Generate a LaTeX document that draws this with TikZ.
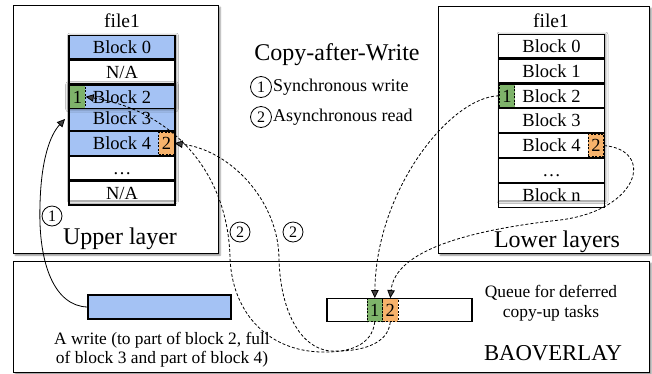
\documentclass[tikz,border=0pt]{standalone}
\usepackage{fontspec}
\setmainfont{Liberation Serif}
\usetikzlibrary{arrows.meta,shadows.blur}

\definecolor{blockblue}{HTML}{A4C2F4}
\definecolor{taskgreen}{HTML}{7EB36A}
\definecolor{taskorange}{HTML}{F6B26B}

\tikzset{
  frame/.style={draw, line width=1.4bp, fill=white, anchor=north west,
    blur shadow={shadow xshift=1.5bp, shadow yshift=-1.5bp, shadow blur radius=1.5bp, shadow opacity=45}},
  blk/.style={draw, line width=1.2bp, minimum width=106bp, minimum height=23.7bp,
    inner sep=0pt, anchor=north, text height=12.5bp, text depth=0bp,
    font=\fontsize{18.5bp}{20bp}\selectfont},
  stackbg/.style={fill=white, blur shadow={shadow xshift=1bp, shadow yshift=-1bp, shadow blur radius=2.5bp, shadow opacity=50}},
  task/.style={draw, line width=0.8bp, dash pattern=on 2bp off 1.5bp, minimum width=15.5bp,
    minimum height=22.5bp, inner sep=0pt, text height=12.5bp, text depth=0bp,
    font=\fontsize{18.5bp}{20bp}\selectfont},
  step num/.style={draw, circle, line width=0.8bp, minimum size=20bp, inner sep=0pt,
    font=\fontsize{16bp}{16bp}\selectfont},
  flow/.style={line width=0.8bp, dash pattern=on 3bp off 2bp, -{Triangle[length=8bp,width=7.5bp]}},
  lbl/.style={inner sep=0pt}
}

\begin{document}
\begin{tikzpicture}[x=1bp,y=-1bp]
\useasboundingbox (0,0) rectangle (652,373);

% outer frames
\node[frame, minimum width=205bp, minimum height=248bp] (upperbox) at (13,5) {};
\node[frame, minimum width=211bp, minimum height=247bp] (lowerbox) at (438,6) {};
\node[frame, minimum width=636bp, minimum height=111bp] (bao) at (13,261) {};

% upper layer file
\node[lbl, font=\fontsize{19.5bp}{20bp}\selectfont] (ufile) at (122,21) {file1};
\fill[stackbg] (69,34.5) rectangle (175,200);
\node[blk, fill=blockblue] (u0) at (122,34.5) {Block 0};
\node[blk] (u1) at (u0.south) {N/A};
\node[blk, fill=blockblue] (u3) at (122,105.9) {Block 3};
\node[blk, fill=blockblue] (u4) at (u3.south) {Block 4};
\node[blk] (u5) at (u4.south) {\dots};
\node[blk] (u6) at (u5.south) {N/A};
\node[blk, fill=blockblue,
  blur shadow={shadow xshift=0bp, shadow yshift=0bp, shadow blur radius=3.5bp, shadow opacity=75}]
  (u2) at (u1.south) {Block 2};
\node[task, fill=taskgreen, anchor=west] (ug) at ([xshift=1bp]u2.west) {1};
\node[task, fill=taskorange, anchor=east] (uo) at ([xshift=-1bp]u4.east) {2};
\node[lbl, font=\fontsize{24bp}{24bp}\selectfont] (ulab) at (120,239) {Upper layer};

% lower layers file
\node[lbl, font=\fontsize{19.5bp}{20bp}\selectfont] (lfile) at (551,21) {file1};
\fill[stackbg] (498.5,33.5) rectangle (604.5,200);
\node[blk] (l0) at (551.5,33.5) {Block 0};
\node[blk] (l1) at (l0.south) {Block 1};
\node[blk] (l2) at (l1.south) {Block 2};
\node[blk] (l3) at (l2.south) {Block 3};
\node[blk] (l4) at (l3.south) {Block 4};
\node[blk] (l5) at (l4.south) {\dots};
\node[blk] (l6) at (l5.south) {Block n};
\node[task, fill=taskgreen, anchor=west] (lg) at ([xshift=1bp]l2.west) {1};
\node[task, fill=taskorange, anchor=east] (lo) at ([xshift=-1bp]l4.east) {2};
\node[lbl, font=\fontsize{24bp}{24bp}\selectfont] (llab) at (557,242) {Lower layers};

% legend
\node[lbl, font=\fontsize{24bp}{24bp}\selectfont] (title) at (337,55) {Copy-after-Write};
\node[step num, minimum size=21bp] (leg1) at (261,87) {1};
\node[lbl, anchor=west, font=\fontsize{18bp}{18bp}\selectfont] (leg1t) at (273,87) {Synchronous write};
\node[step num, minimum size=21bp] (leg2) at (261,117) {2};
\node[lbl, anchor=west, font=\fontsize{18bp}{18bp}\selectfont] (leg2t) at (273,117) {Asynchronous read};

% BAOVERLAY contents
\node[draw, line width=1.2bp, fill=blockblue, minimum width=143bp, minimum height=24bp, inner sep=0pt] (wr) at (159.5,307) {};
\node[lbl, align=center, font=\fontsize{17.4bp}{19bp}\selectfont] (wrtext) at (162,349.5)
  {A write (to part of block 2, full\\of block 3 and part of block 4)};
\node[draw, line width=1.2bp, fill=white, minimum width=145bp, minimum height=23.5bp, inner sep=0pt] (queue) at (399.5,310) {};
\node[task, fill=taskgreen, minimum height=23bp] (q1) at (374.8,310) {1};
\node[task, fill=taskorange, minimum height=23bp] (q2) at (390.3,310) {2};
\node[lbl, align=center, font=\fontsize{17.4bp}{20bp}\selectfont] (qtext) at (551,303)
  {Queue for deferred\\copy-up tasks};
\node[lbl, font=\fontsize{22.7bp}{23bp}\selectfont] (baolab) at (553,353) {BAOVERLAY};

% step 1: synchronous write into the upper layer
\coordinate (w1) at (65,119);
\draw[line width=0.8bp, -{Triangle[length=8bp,width=7.5bp]}]
  (wr.west) .. controls (55,306) and (38,265) .. (40,205)
  .. controls (41,160) and (50,135) .. (w1);
\node[step num] (s1) at (52,216) {1};

% step 2: deferred copy-up from lower layers through the queue
\draw[flow] (lg.west) .. controls (450,97) and (376,190) .. (q1.north);
\draw[flow] (lo.east) .. controls (655,150) and (640,210) .. (560,220)
  .. controls (470,230) and (395,250) .. (q2.north);
\draw[flow] (q1.south) .. controls (372,345) and (350,353) .. (320,352)
  .. controls (265,350) and (232,310) .. (230,258)
  .. controls (228,170) and (170,110) .. (ug.east);
\draw[flow] (q2.south) .. controls (388,345) and (360,352) .. (330,351)
  .. controls (300,348) and (280,310) .. (279,258)
  .. controls (278,200) and (230,150) .. (uo.east);
\node[step num] (s2a) at (240,232) {2};
\node[step num] (s2b) at (293,232) {2};
\end{tikzpicture}
\end{document}
